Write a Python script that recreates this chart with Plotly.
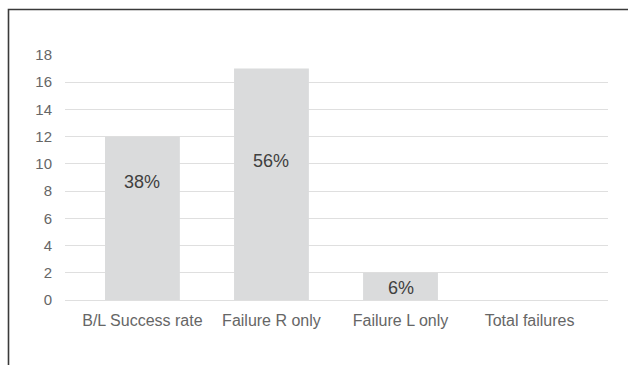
import plotly.graph_objects as go

categories = ["B/L Success rate", "Failure R only", "Failure L only", "Total failures"]
counts = [12, 17, 2, 0]
pct_labels = ["38%", "56%", "6%", ""]
y_ticks = [0, 2, 4, 6, 8, 10, 12, 14, 16, 18]

# data-label placement (in data units) as seen in the reference
label_y = [8.7, 10.2, 0.9, None]

W, H = 628, 365
ML, MR, MT, MB = 65, 20, 55, 65

fig = go.Figure()
fig.add_trace(go.Bar(
    x=list(range(len(categories))), y=counts,
    marker=dict(color="#DADBDC", line=dict(width=0)),
    hoverinfo="skip",
))

for i, (t, ly) in enumerate(zip(pct_labels, label_y)):
    if t and ly is not None:
        fig.add_annotation(x=i, y=ly, text=t, showarrow=False,
                           font=dict(family="Liberation Sans, Arial", size=18, color="#404040"),
                           xref="x", yref="y")

pw = W - ML - MR
ph = H - MT - MB
# outer chart border (top/left visible, right/bottom beyond the frame)
fig.add_shape(type="rect", xref="paper", yref="paper",
              x0=(8.5 - ML) / pw, x1=(W + 5 - ML) / pw,
              y0=(H - MB - (H + 5)) / ph, y1=(H - MB - 9.5) / ph,
              line=dict(color="#3a3a3a", width=1.6), fillcolor="rgba(0,0,0,0)")

fig.update_layout(
    width=W, height=H,
    margin=dict(l=ML, r=MR, t=MT, b=MB),
    paper_bgcolor="white", plot_bgcolor="white",
    bargap=0.42,
    showlegend=False,
    font=dict(family="Liberation Sans, Arial", size=16, color="#595959"),
    xaxis=dict(
        range=[-0.6, 3.608],
        tickmode="array", tickvals=list(range(len(categories))), ticktext=categories,
        showgrid=False, zeroline=False, showline=False, ticks="",
        ticklabelstandoff=9,
        tickfont=dict(size=16, color="#666666"),
        fixedrange=True,
    ),
    yaxis=dict(
        range=[0, 18],
        tickmode="array", tickvals=y_ticks,
        showgrid=True, gridcolor="#DFDFDF", gridwidth=1.3,
        zeroline=True, zerolinecolor="#DFDFDF", zerolinewidth=1.3,
        showline=False, ticks="",
        ticklabelstandoff=12,
        tickfont=dict(size=15, color="#666666"),
        fixedrange=True,
    ),
)

fig.write_html("out.html")
